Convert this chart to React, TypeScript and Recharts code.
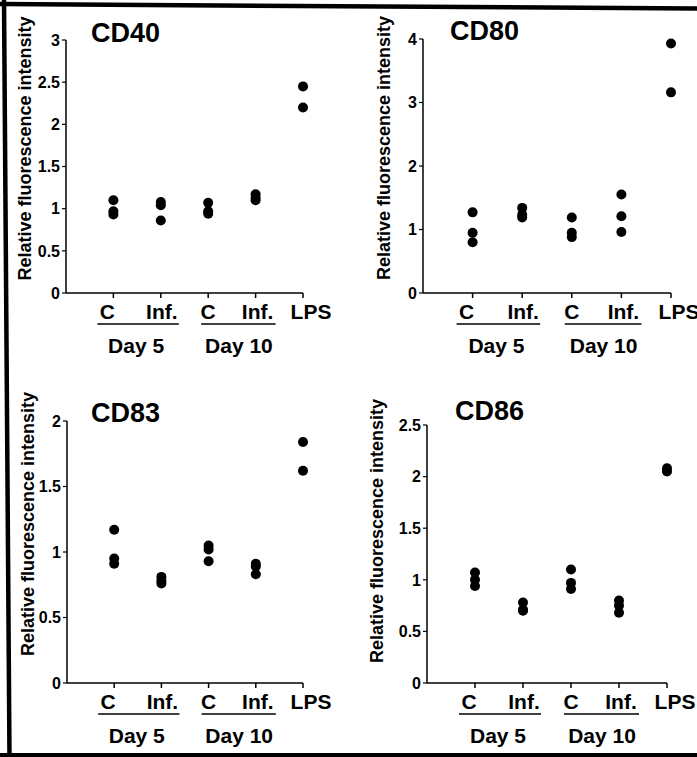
import React from "react";
import { ScatterChart, Scatter, XAxis, YAxis } from "recharts";

const FONT = '"Liberation Sans", Arial, Helvetica, sans-serif';

const CATEGORIES = ["C", "Inf.", "C", "Inf.", "LPS"];
const DAYS = ["Day 5", "Day 10"];
const Y_LABEL = "Relative fluorescence intensity";

// one list of replicate values per category
const CD40 = [[1.1, 0.97, 0.93], [1.08, 1.04, 0.86], [1.07, 0.97, 0.94], [1.17, 1.13, 1.1], [2.45, 2.2]];
const CD80 = [[1.27, 0.95, 0.8], [1.34, 1.23, 1.19], [1.19, 0.95, 0.88], [1.55, 1.21, 0.96], [3.93, 3.16]];
const CD83 = [[1.17, 0.95, 0.91], [0.81, 0.78, 0.76], [1.05, 1.02, 0.93], [0.91, 0.89, 0.83], [1.84, 1.62]];
const CD86 = [[1.07, 1.0, 0.94], [0.78, 0.71, 0.7], [1.1, 0.97, 0.91], [0.8, 0.75, 0.68], [2.08, 2.05]];

const CD40_TICKS = [0, 0.5, 1, 1.5, 2, 2.5, 3];
const CD80_TICKS = [0, 1, 2, 3, 4];
const CD83_TICKS = [0, 0.5, 1, 1.5, 2];
const CD86_TICKS = [0, 0.5, 1, 1.5, 2, 2.5];
const X_TICKS = [1, 2, 3, 4, 5];

// label nudges, borrowed from the figure's hand placement
const TICK_DX = [-6, 1, 0, 2, 8];
const GROUP_STYLE = [
  { start: -16, end: 18, shift: -1 },
  { start: -7, end: 20, shift: 7 },
];

const BOLD = { fontFamily: FONT, fontWeight: "bold", fill: "#000" } as const;

const toPoints = (groups: number[][]) =>
  groups.flatMap((vals, i) => vals.map((y) => ({ x: i + 1, y })));

function CategoryTick({ x, y, payload, step }: any) {
  const i = payload.value - 1;
  const g = i === 0 ? 0 : i === 2 ? 1 : -1;
  return (
    <g>
      <text x={x + TICK_DX[i]} y={y + 21} textAnchor="middle" fontSize={21} {...BOLD}>
        {CATEGORIES[i]}
      </text>
      {g >= 0 && (
        <>
          <line
            x1={x + GROUP_STYLE[g].start}
            x2={x + step + GROUP_STYLE[g].end}
            y1={y + 26}
            y2={y + 26}
            stroke="#000"
            strokeWidth={1.5}
          />
          <text x={x + step / 2 + GROUP_STYLE[g].shift} y={y + 55} textAnchor="middle" fontSize={21} {...BOLD}>
            {DAYS[g]}
          </text>
        </>
      )}
    </g>
  );
}

function ValueTick({ x, y, payload }: any) {
  return (
    <text x={x} y={y} dy="0.36em" textAnchor="end" fontSize={16} {...BOLD}>
      {payload.value}
    </text>
  );
}

type PanelProps = {
  values: number[][];
  ticks: number[];
  left: number;
  top: number;
  height: number;
  plotLeft: number;
  plotTop: number;
  plotWidth: number;
  plotHeight: number;
  labelDx: number;
  labelDy: number;
};

function Panel(p: PanelProps) {
  const W = 348;
  const Y_W = 50;
  const X_H = 60;
  const margin = {
    top: p.plotTop,
    left: p.plotLeft - Y_W,
    right: W - p.plotLeft - p.plotWidth,
    bottom: p.height - p.plotTop - p.plotHeight - X_H,
  };
  const lx = p.plotLeft + p.labelDx;
  const ly = p.plotTop + p.plotHeight / 2 + p.labelDy;
  return (
    <div style={{ position: "absolute", left: p.left, top: p.top }}>
      <ScatterChart width={W} height={p.height} margin={margin}>
        <XAxis
          type="number"
          dataKey="x"
          domain={[0, 5]}
          ticks={X_TICKS}
          height={X_H}
          axisLine={{ stroke: "#000", strokeWidth: 1.5 }}
          tickLine={{ stroke: "#000", strokeWidth: 1.5 }}
          tickSize={5}
          tickMargin={0}
          interval={0}
          tick={(t: any) => <CategoryTick {...t} step={p.plotWidth / 5} />}
        />
        <YAxis
          type="number"
          dataKey="y"
          domain={[0, p.ticks[p.ticks.length - 1]]}
          ticks={p.ticks}
          width={Y_W}
          interval={0}
          axisLine={{ stroke: "#000", strokeWidth: 1.5 }}
          tickLine={{ stroke: "#000", strokeWidth: 1.2 }}
          tickSize={4}
          tickMargin={2}
          tick={(t: any) => <ValueTick {...t} />}
          label={{
            content: () => (
              <text
                x={lx}
                y={ly}
                transform={`rotate(-90 ${lx} ${ly})`}
                textAnchor="middle"
                dominantBaseline="central"
                fontSize={18}
                {...BOLD}
              >
                {Y_LABEL}
              </text>
            ),
          }}
        />
        <Scatter
          data={toPoints(p.values)}
          isAnimationActive={false}
          shape={(s: any) => <circle cx={s.cx} cy={s.cy} r={5} fill="#000" />}
        />
      </ScatterChart>
    </div>
  );
}

const TITLES = [
  { text: "CD40", x: 91, y: 42 },
  { text: "CD80", x: 450, y: 40 },
  { text: "CD83", x: 91, y: 422 },
  { text: "CD86", x: 455, y: 420 },
];

export default function App() {
  return (
    <div
      style={{
        position: "absolute",
        left: 0,
        top: 0,
        width: 697,
        height: 757,
        background: "#fff",
        overflow: "hidden",
      }}
    >
      <Panel values={CD40} ticks={CD40_TICKS} left={0} top={0} height={378}
        plotLeft={66} plotTop={40} plotWidth={237} plotHeight={253} labelDx={-41} labelDy={-18} />
      <Panel values={CD80} ticks={CD80_TICKS} left={349} top={0} height={378}
        plotLeft={74} plotTop={39} plotWidth={248} plotHeight={254} labelDx={-39} labelDy={-18} />
      <Panel values={CD83} ticks={CD83_TICKS} left={0} top={378} height={379}
        plotLeft={67} plotTop={43} plotWidth={236} plotHeight={262} labelDx={-39} labelDy={-28} />
      <Panel values={CD86} ticks={CD86_TICKS} left={349} top={378} height={379}
        plotLeft={78} plotTop={47} plotWidth={240} plotHeight={258} labelDx={-50} labelDy={-23} />
      <svg
        width={697}
        height={757}
        style={{ position: "absolute", left: 0, top: 0, pointerEvents: "none" }}
      >
        <line x1={0} y1={4} x2={697} y2={8.5} stroke="#000" strokeWidth={4.5} />
        <line x1={4} y1={0} x2={9.5} y2={757} stroke="#000" strokeWidth={4.5} />
        <line x1={0} y1={755} x2={697} y2={755} stroke="#000" strokeWidth={4} />
        {TITLES.map((t) => (
          <text key={t.text} x={t.x} y={t.y} fontSize={27} {...BOLD}>
            {t.text}
          </text>
        ))}
      </svg>
    </div>
  );
}
